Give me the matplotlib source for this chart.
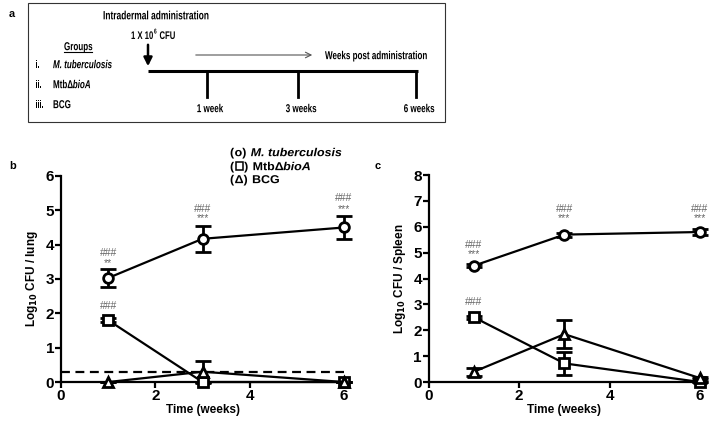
import numpy as np
import matplotlib
matplotlib.use("Agg")
import matplotlib.pyplot as plt
from matplotlib.patches import Rectangle, PathPatch
from matplotlib.textpath import TextPath
from matplotlib.font_manager import FontProperties
from matplotlib.transforms import Affine2D

plt.rcParams['font.family'] = ['Liberation Sans', 'DejaVu Sans']

# ---------------- data ----------------
weeks = [1, 3, 6]

lung_mtb = [3.03, 4.17, 4.50]
lung_mtb_err = [0.27, 0.38, 0.33]
lung_bioa = [1.80, 0.0, 0.0]
lung_bioa_err = [0.05, 0.0, 0.0]
lung_bcg = [0.0, 0.30, 0.0]
lung_bcg_err = [0.0, 0.32, 0.0]
lung_limit = 0.3

spleen_mtb = [4.50, 5.70, 5.80]
spleen_mtb_err = [0.06, 0.08, 0.10]
spleen_bioa = [2.50, 0.72, 0.0]
spleen_bioa_err = [0.05, 0.45, 0.0]
spleen_bcg = [0.40, 1.85, 0.15]
spleen_bcg_err = [0.15, 0.55, 0.05]

# significance marks: (x, y, text)
lung_marks = [(1, 3.75, '###'), (1, 3.45, '**'), (3, 5.05, '###'), (3, 4.78, '***'),
              (6, 5.35, '###'), (6, 5.05, '***'), (1, 2.2, '###')]
spleen_marks = [(1, 5.3, '###'), (1, 4.95, '***'), (3, 6.7, '###'), (3, 6.35, '***'),
                (6, 6.7, '###'), (6, 6.35, '***'), (1, 3.1, '###')]

timeline_labels = ['1 week', '3 weeks', '6 weeks']
timeline_px = [207, 298, 416]

fig = plt.figure(figsize=(7.10, 4.24), dpi=100)

# overlay in pixel coords for the schematic and panel letters
ov = fig.add_axes([0, 0, 1, 1])
ov.set_xlim(0, 710)
ov.set_ylim(424, 0)
ov.axis('off')


def ptext(x, y, s, size=11.5, style='normal', ha='left', sx=0.70, color='black',
          family='Liberation Sans'):
    # bold text drawn as a path so it can be squeezed like a narrow font
    fp = FontProperties(family=family, weight='bold', style=style)
    tp = TextPath((0, 0), s, size=size, prop=fp)
    w = tp.get_extents().x1 * sx
    x0 = x - (w / 2 if ha == 'center' else 0)
    tr = Affine2D().scale(sx, -1).translate(x0, y + size * 0.36)
    ov.add_patch(PathPatch(tr.transform_path(tp), fc=color, lw=0, zorder=5))
    return x0 + w


# ---------------- panel a ----------------
ov.add_patch(Rectangle((28, 3), 417, 119, fill=False, lw=0.8, ec='#333333'))
ptext(9, 13, 'a', size=11, sx=1)
ptext(103, 15, 'Intradermal administration', size=12)
xe = ptext(131, 35, '1 X 10', size=11)
xe = ptext(xe + 1, 31, '6', size=7)
ptext(xe + 3, 35, 'CFU', size=11)
ov.annotate('', xy=(148, 69), xytext=(148, 42),
            arrowprops=dict(arrowstyle='-|>,head_width=0.25,head_length=0.5',
                            lw=1.8, color='black'))
ov.plot([148, 418], [71, 71], color='black', lw=2.2, solid_capstyle='butt')
for px, lab in zip(timeline_px, timeline_labels):
    ov.plot([px, px], [71, 97], color='black', lw=2)
    ptext(px + 3, 108, lab, ha='center')
ov.annotate('', xy=(315, 55), xytext=(193, 55),
            arrowprops=dict(arrowstyle='->', lw=0.8, color='#555555'))
ptext(325, 55, 'Weeks post administration')
xe = ptext(64, 46, 'Groups')
ov.plot([64, xe], [52, 52], color='black', lw=0.8)
ptext(35, 64, 'i.')
ptext(53, 64, 'M. tuberculosis', style='italic')
ptext(35, 84, 'ii.')
xe = ptext(53, 84, 'Mtb\u0394')
ptext(xe, 84, 'bioA', style='italic')
ptext(35, 104, 'iii.')
ptext(53, 104, 'BCG')


def panel(ax, mtb, mtb_e, bioa, bioa_e, bcg, bcg_e, ymax, ylabel, marks):
    kw = dict(color='black', lw=1.6, capsize=5.5, capthick=2, elinewidth=2,
              mfc='white', mec='black', mew=2, clip_on=False, zorder=3)
    for vals, errs, m in [(mtb, mtb_e, 'o'), (bioa, bioa_e, 's'), (bcg, bcg_e, '^')]:
        ax.errorbar(weeks, vals, yerr=errs, marker=m, ms=7, **kw)
    ax.set_xlim(0, 6)
    ax.set_ylim(0, ymax)
    ax.set_xticks([0, 2, 4, 6])
    ax.set_yticks(range(0, ymax + 1))
    for s in ['top', 'right']:
        ax.spines[s].set_visible(False)
    for s in ['left', 'bottom']:
        ax.spines[s].set_linewidth(1.6)
    ax.tick_params(width=1.6, length=4, labelsize=11, pad=1)
    for t in ax.get_xticklabels() + ax.get_yticklabels():
        t.set_fontweight('bold')
    ax.set_xlabel('Time (weeks)', fontsize=8.5, fontweight='bold', labelpad=1)
    ax.set_ylabel(ylabel, fontsize=8.5, fontweight='bold', labelpad=4)
    for x, y, t in marks:
        ax.text(x, y, t, fontsize=7.5, color='#666666', ha='center', va='center')
    ax.patch.set_alpha(0)


axb = fig.add_axes([0.086, 0.099, 0.3985, 0.486])
panel(axb, lung_mtb, lung_mtb_err, lung_bioa, lung_bioa_err, lung_bcg, lung_bcg_err,
      6, r'Log$_{\mathbf{10}}$ CFU / lung', lung_marks)
axb.axhline(lung_limit, color='black', lw=1.6, ls=(0, (4, 2.5)), zorder=1)

axc = fig.add_axes([0.604, 0.099, 0.382, 0.488])
panel(axc, spleen_mtb, spleen_mtb_err, spleen_bioa, spleen_bioa_err, spleen_bcg,
      spleen_bcg_err, 8, r'Log$_{\mathbf{10}}$ CFU / Spleen', spleen_marks)

ptext(10, 165, 'b', size=11, sx=1)
ptext(375, 165, 'c', size=11, sx=1)

# legend text of panel b
lg = dict(size=11.5, sx=1.08)
rows = [(152, 'o', 'M. tuberculosis', None), (166, '\u25a1', 'Mtb\u0394', 'bioA'),
        (179, '\u0394', 'BCG', None)]
for y, sym, name, ital in rows:
    xe = ptext(230, y, '(', **lg)
    if sym == '\u25a1':
        ov.add_patch(Rectangle((xe + 1.5, y - 3.8), 7, 7.6, fill=False, lw=1.1,
                               ec='black', zorder=5))
        xe = xe + 9.5
    else:
        xe = ptext(xe + 0.5, y, sym, **lg)
    xe = ptext(xe + 0.5, y, ')', **lg)
    xe = ptext(xe + 5, y, name, style='italic' if sym == 'o' else 'normal', **lg)
    if ital:
        ptext(xe, y, ital, style='italic', **lg)

fig.savefig('out.png', dpi=100)
